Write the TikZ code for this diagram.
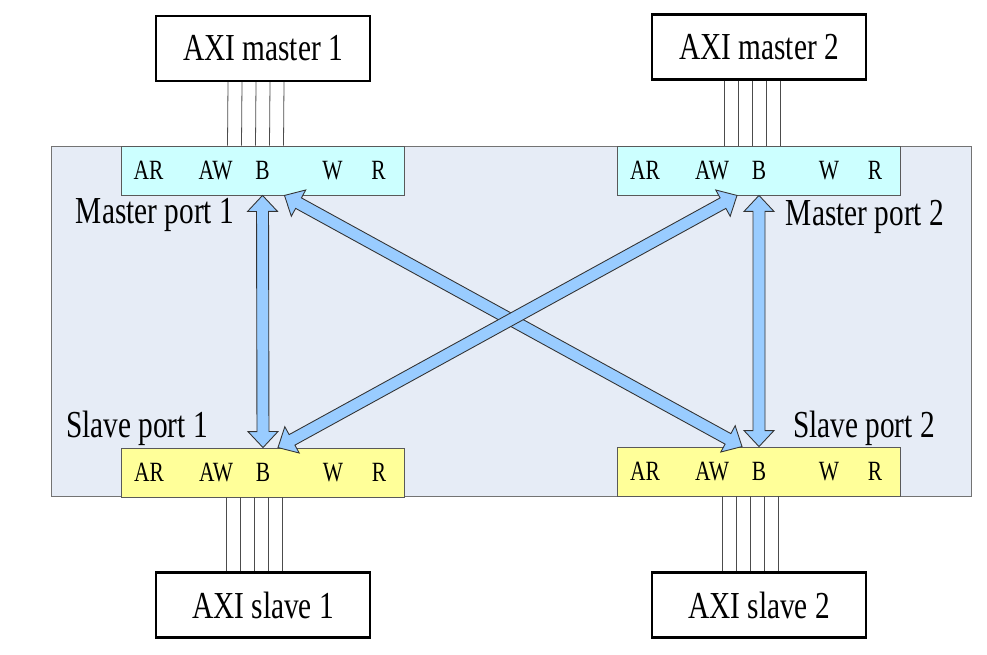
\documentclass[tikz,border=0pt]{standalone}
\usepackage{fontspec}
\setmainfont{Liberation Serif}
\usetikzlibrary{calc,positioning}
\definecolor{bgblue}{HTML}{E6ECF6}
\definecolor{mportcyan}{HTML}{CCFFFF}
\definecolor{sportyellow}{HTML}{FFFF99}
\definecolor{arrowblue}{HTML}{99CCFF}
\newcommand{\tallt}[1]{\scalebox{1}[1.3]{#1}}
% double headed fat arrow between two coordinates
\newcommand{\fatarrow}[2]{%
    \coordinate (s1) at ($(#1)!0.32cm!(#2)$);
    \coordinate (e1) at ($(#2)!0.32cm!(#1)$);
    \filldraw[fatarr] (#1) -- ($(s1)!0.3cm!90:(#2)$) -- ($(s1)!0.12cm!90:(#2)$)
        -- ($(e1)!0.12cm!-90:(#1)$) -- ($(e1)!0.3cm!-90:(#1)$) -- (#2)
        -- ($(e1)!0.3cm!90:(#1)$) -- ($(e1)!0.12cm!90:(#1)$)
        -- ($(s1)!0.12cm!-90:(#2)$) -- ($(s1)!0.3cm!-90:(#2)$) -- cycle;
}
\begin{document}
\begin{tikzpicture}[x=0.02cm, y=-0.02cm,
    axibox/.style={draw, line width=1.4pt, minimum width=4.28cm, minimum height=1.3cm,
        inner sep=0pt, font=\fontsize{16.7}{20}\selectfont},
    portbox/.style={draw=black!65, line width=0.5pt, minimum width=5.66cm, minimum height=0.98cm, inner sep=0pt},
    sig/.style={font=\fontsize{12.2}{14}\selectfont, inner sep=0pt},
    portlbl/.style={font=\fontsize{16.7}{20}\selectfont, inner sep=0pt},
    wire/.style={draw=black!70, line width=0.45pt},
    fatarr/.style={fill=arrowblue, draw=black!80, line width=0.5pt, line join=miter}]
    \useasboundingbox (0,0) rectangle (987,655);
    \node[draw=black!55, fill=bgblue, minimum width=18.4cm, minimum height=7cm] (xbar) at (511,321) {};
    \node[axibox] (m1) at (263,48.5) {\tallt{AXI master 1}};
    \node[axibox] (m2) at (759,47) {\tallt{AXI master 2}};
    \node[axibox] (s1) at (263,605) {\tallt{AXI slave 1}};
    \node[axibox] (s2) at (759,605) {\tallt{AXI slave 2}};
    \node[portbox, fill=mportcyan] (mp1) at (262.5,170.5) {};
    \node[portbox, fill=mportcyan] (mp2) at (759,170.5) {};
    \node[portbox, fill=sportyellow] (sp1) at (263,472.5) {};
    \node[portbox, fill=sportyellow] (sp2) at (759,471.5) {};
    \foreach \p in {mp1,mp2,sp1,sp2}
        \foreach \lbl/\dx in {AR/-114,AW/-47,B/0,W/70,R/116}
            \node[sig] (\p-\lbl) at ($(\p)+(\dx,0)$) {\tallt{\lbl}};
    \node[portlbl] (mp1lbl) at (155,215) {\tallt{Master port 1}};
    \node[portlbl] (mp2lbl) at (865,217) {\tallt{Master port 2}};
    \node[portlbl] (sp1lbl) at (137,428) {\tallt{Slave port 1}};
    \node[portlbl] (sp2lbl) at (864,428) {\tallt{Slave port 2}};
    % wires
    \foreach \m/\p in {m1/mp1,m2/mp2}
        \foreach \dx in {-35,-21,-7,7,21}
            \draw[wire] ($(\m.south)+(\dx,0)$) -- ($(\p.north)+(\dx,0)$);
    \foreach \p/\s in {sp1/s1,sp2/s2}
        \foreach \dx in {-37,-23,-9,5,19}
            \draw[wire] ($(\p.south)+(\dx,0)$) -- ($(\s.north)+(\dx,0)$);
    % crossbar arrows
    \coordinate (d1a) at ($(mp1.south)+(22,0)$);
    \coordinate (d1b) at ($(sp2.north)+(-17,0)$);
    \coordinate (d2a) at ($(mp2.south)+(-22,0)$);
    \coordinate (d2b) at ($(sp1.north)+(15,0)$);
    \fatarrow{mp1.south}{sp1.north}
    \fatarrow{mp2.south}{sp2.north}
    \fatarrow{d1a}{d1b}
    \fatarrow{d2a}{d2b}
\end{tikzpicture}
\end{document}
